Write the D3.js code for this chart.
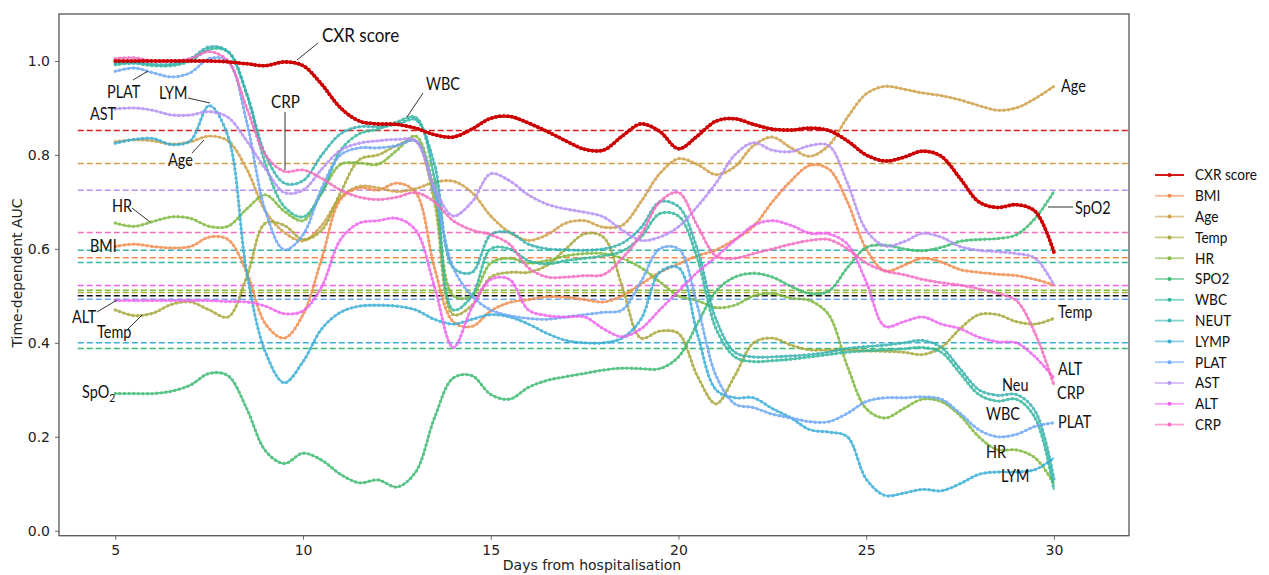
<!DOCTYPE html>
<html>
<head>
<meta charset="utf-8">
<script src="https://cdn.jsdelivr.net/npm/d3@7"></script>
<style>
  html, body { margin: 0; padding: 0; background: #fff; }
  svg { display: block; }
  .tick text { font-family: "DejaVu Sans", sans-serif; font-size: 14px; fill: #222; }
  .axis-title { font-family: "DejaVu Sans", sans-serif; font-size: 14px; fill: #222; }
  .note { font-family: Lato, "Open Sans", sans-serif; font-size: 17px; fill: #111; }
  .legend text { font-family: Lato, "Open Sans", sans-serif; font-size: 15.5px; fill: #111; }
</style>
</head>
<body>
<svg id="chart" width="1269" height="575"></svg>
<script>
// Time-dependent AUC of each predictor by day of hospital stay
const days = [5,5.5,6,6.5,7,7.5,8,8.5,9,9.5,10,10.5,11,11.5,12,12.5,13,13.5,14,14.5,
  15,15.5,16,16.5,17,17.5,18,18.5,19,19.5,20,20.5,21,21.5,22,22.5,23,23.5,24,24.5,
  25,25.5,26,26.5,27,27.5,28,28.5,29,29.5,30];

const seriesNames = ["CXR score","BMI","Age","Temp","HR","SPO2","WBC","NEUT","LYMP","PLAT","AST","ALT","CRP"];
const seriesColors = ["#cc0000","#f28c4f","#cfa048","#a9a83c","#80b93e","#3dba72","#36b89d","#37b2b0","#3aaed6","#6ea8f5","#b690f5","#ef64ef","#f46cbf"];

const cxrAUC = [1.0,1.0,1.0,1.0,1.0,1.0,0.998,0.994,0.99,0.998,
  0.99,0.95,0.90,0.872,0.866,0.865,0.857,0.843,0.838,0.855,
  0.878,0.882,0.868,0.85,0.83,0.812,0.81,0.84,0.866,0.85,
  0.813,0.84,0.872,0.877,0.865,0.855,0.853,0.857,0.852,0.83,
  0.80,0.787,0.795,0.808,0.797,0.75,0.70,0.688,0.694,0.68,
  0.593];
const bmiAUC = [0.605,0.61,0.605,0.602,0.605,0.625,0.62,0.55,0.44,0.41,
  0.46,0.58,0.705,0.73,0.725,0.74,0.72,0.56,0.445,0.435,
  0.468,0.486,0.492,0.498,0.497,0.492,0.487,0.5,0.525,0.55,
  0.568,0.585,0.598,0.62,0.648,0.70,0.745,0.778,0.77,0.70,
  0.60,0.553,0.565,0.58,0.572,0.556,0.55,0.546,0.543,0.535,
  0.523];
const ageAUC = [0.828,0.832,0.83,0.823,0.828,0.84,0.83,0.77,0.68,0.635,
  0.617,0.65,0.71,0.733,0.73,0.722,0.728,0.742,0.744,0.72,
  0.67,0.635,0.618,0.63,0.655,0.66,0.646,0.65,0.70,0.76,
  0.792,0.78,0.758,0.775,0.82,0.838,0.815,0.797,0.82,0.88,
  0.93,0.946,0.94,0.932,0.926,0.917,0.905,0.895,0.9,0.92,
  0.946];
const tempAUC = [0.47,0.458,0.463,0.482,0.487,0.47,0.455,0.54,0.655,0.65,
  0.62,0.64,0.72,0.79,0.80,0.82,0.83,0.70,0.46,0.48,
  0.54,0.55,0.55,0.565,0.60,0.632,0.625,0.52,0.41,0.425,
  0.42,0.33,0.27,0.33,0.40,0.41,0.395,0.385,0.385,0.385,
  0.383,0.382,0.38,0.375,0.39,0.43,0.46,0.46,0.445,0.44,
  0.452];
const hrAUC = [0.655,0.648,0.658,0.668,0.665,0.648,0.648,0.685,0.715,0.68,
  0.66,0.72,0.78,0.783,0.78,0.81,0.84,0.72,0.50,0.50,
  0.57,0.58,0.57,0.575,0.585,0.59,0.59,0.58,0.56,0.53,
  0.50,0.49,0.475,0.48,0.50,0.505,0.495,0.49,0.46,0.35,
  0.26,0.24,0.26,0.28,0.275,0.245,0.20,0.172,0.172,0.155,
  0.10];
const spo2AUC = [0.292,0.292,0.292,0.297,0.31,0.335,0.33,0.26,0.17,0.143,
  0.165,0.15,0.12,0.102,0.108,0.093,0.125,0.24,0.325,0.33,
  0.29,0.28,0.305,0.32,0.328,0.335,0.342,0.346,0.345,0.345,
  0.37,0.44,0.51,0.54,0.548,0.54,0.52,0.505,0.51,0.56,
  0.603,0.608,0.60,0.596,0.603,0.616,0.62,0.622,0.63,0.665,
  0.722];
const wbcAUC = [0.992,0.995,0.99,0.99,1.0,1.025,1.02,0.93,0.78,0.69,
  0.668,0.72,0.81,0.845,0.855,0.87,0.88,0.75,0.47,0.50,
  0.60,0.60,0.575,0.568,0.575,0.58,0.585,0.595,0.625,0.675,
  0.67,0.58,0.43,0.37,0.36,0.362,0.365,0.37,0.375,0.38,
  0.383,0.385,0.387,0.39,0.38,0.335,0.29,0.276,0.28,0.24,
  0.087];
const neutAUC = [0.995,0.997,0.993,0.993,1.005,1.03,1.02,0.93,0.80,0.74,
  0.745,0.80,0.845,0.86,0.86,0.865,0.875,0.78,0.56,0.55,
  0.63,0.635,0.61,0.60,0.598,0.597,0.60,0.612,0.645,0.70,
  0.69,0.60,0.45,0.38,0.37,0.37,0.372,0.375,0.38,0.388,
  0.392,0.395,0.40,0.405,0.39,0.345,0.30,0.288,0.29,0.255,
  0.11];
const lympAUC = [0.825,0.833,0.835,0.822,0.83,0.905,0.84,0.55,0.38,0.315,
  0.36,0.43,0.465,0.478,0.48,0.478,0.47,0.45,0.44,0.45,
  0.46,0.455,0.44,0.42,0.405,0.40,0.40,0.41,0.45,0.55,
  0.56,0.42,0.30,0.283,0.283,0.26,0.24,0.215,0.21,0.20,
  0.11,0.075,0.08,0.088,0.085,0.10,0.12,0.125,0.125,0.13,
  0.155];
const platAUC = [0.978,0.985,0.975,0.966,0.975,1.005,1.0,0.87,0.68,0.598,
  0.63,0.73,0.80,0.815,0.815,0.82,0.83,0.72,0.56,0.50,
  0.47,0.458,0.452,0.45,0.455,0.46,0.465,0.47,0.53,0.60,
  0.60,0.48,0.33,0.27,0.262,0.248,0.24,0.232,0.232,0.25,
  0.275,0.283,0.283,0.285,0.28,0.25,0.215,0.20,0.205,0.222,
  0.23];
const astAUC = [0.898,0.90,0.895,0.885,0.885,0.892,0.88,0.83,0.77,0.72,
  0.725,0.77,0.81,0.825,0.83,0.833,0.83,0.73,0.67,0.70,
  0.76,0.745,0.715,0.695,0.685,0.678,0.668,0.64,0.618,0.625,
  0.647,0.69,0.74,0.80,0.826,0.81,0.807,0.82,0.82,0.74,
  0.64,0.606,0.615,0.633,0.625,0.605,0.597,0.594,0.59,0.58,
  0.523];
const altAUC = [0.49,0.49,0.49,0.49,0.49,0.49,0.488,0.487,0.478,0.462,
  0.468,0.52,0.62,0.655,0.66,0.665,0.64,0.52,0.39,0.475,
  0.535,0.535,0.47,0.458,0.455,0.455,0.43,0.413,0.43,0.47,
  0.51,0.55,0.583,0.618,0.65,0.66,0.65,0.633,0.632,0.61,
  0.53,0.435,0.445,0.455,0.44,0.43,0.412,0.402,0.40,0.37,
  0.325];
const crpAUC = [1.005,1.007,1.0,1.0,1.005,1.02,1.0,0.9,0.8,0.765,
  0.768,0.75,0.725,0.71,0.705,0.71,0.72,0.70,0.66,0.64,
  0.63,0.61,0.56,0.54,0.54,0.543,0.545,0.58,0.63,0.70,
  0.72,0.65,0.585,0.58,0.59,0.60,0.61,0.618,0.62,0.60,
  0.57,0.553,0.545,0.535,0.528,0.523,0.515,0.505,0.49,0.42,
  0.31];

// Overall (whole-stay) AUC of each predictor, drawn as dashed reference lines
const refNames  = ["CXR score","Age","AST","CRP","NEUT","BMI","WBC","ALT","HR","Temp","chance","PLAT","LYMP","SPO2"];
const refValues = [0.852,0.782,0.725,0.635,0.597,0.581,0.571,0.522,0.512,0.507,0.500,0.493,0.400,0.388];
const refColors = ["#d42020","#cfa048","#b690f5","#f46cbf","#37b2b0","#f28c4f","#36b89d","#ef64ef","#80b93e","#a9a83c","#111111","#6ea8f5","#3aaed6","#3dba72"];

const xTicks = [5,10,15,20,25,30];
const yTicks = [0.0,0.2,0.4,0.6,0.8,1.0];

const svg = d3.select("#chart");
const x = d3.scaleLinear().domain([3.5, 32.0]).range([59, 1129]);
const y = d3.scaleLinear().domain([-0.0106, 1.1]).range([535.7, 14]);

// axes
svg.append("g")
  .attr("transform", `translate(0,${y.range()[0]})`)
  .call(d3.axisBottom(x).tickValues(xTicks).tickFormat(d3.format("d")).tickSize(4).tickPadding(5))
  .call(g => g.select(".domain").remove())
  .call(g => g.selectAll(".tick line").attr("stroke", "#666"));
svg.append("g")
  .attr("transform", `translate(${x.range()[0]},0)`)
  .call(d3.axisLeft(y).tickValues(yTicks).tickFormat(d3.format(".1f")).tickSize(4).tickPadding(5))
  .call(g => g.select(".domain").remove())
  .call(g => g.selectAll(".tick line").attr("stroke", "#666"));

svg.append("text").attr("class", "axis-title")
  .attr("x", 592).attr("y", 570).attr("text-anchor", "middle")
  .text("Days from hospitalisation");
svg.append("text").attr("class", "axis-title")
  .attr("transform", "translate(22,273) rotate(-90)").attr("text-anchor", "middle")
  .text("Time-dependent AUC");

// reference lines
svg.append("g").selectAll("line").data(refValues).join("line")
  .attr("x1", x(4)).attr("x2", x(32))
  .attr("y1", d => y(d)).attr("y2", d => y(d))
  .attr("stroke", (d, i) => refColors[i])
  .attr("stroke-width", 1.5)
  .attr("stroke-dasharray", "6,3");

// series
const seriesValues = [cxrAUC,bmiAUC,ageAUC,tempAUC,hrAUC,spo2AUC,wbcAUC,neutAUC,lympAUC,platAUC,astAUC,altAUC,crpAUC];
const line = d3.line()
  .x((d, i) => x(days[i]))
  .y(d => y(d))
  .curve(d3.curveCatmullRom.alpha(0.5));

const order = d3.range(1, seriesNames.length).concat([0]);
const gSeries = svg.append("g");
order.forEach(k => {
  const isCXR = k === 0;
  const g = gSeries.append("g").attr("opacity", isCXR ? 1 : 0.85);
  const dPath = line(seriesValues[k]);
  g.append("path").attr("d", dPath)
    .attr("fill", "none").attr("stroke", seriesColors[k])
    .attr("stroke-width", isCXR ? 2.6 : 1.8);
  g.append("path").attr("d", dPath)
    .attr("fill", "none").attr("stroke", seriesColors[k])
    .attr("stroke-width", isCXR ? 4 : 3.4)
    .attr("stroke-linecap", "round")
    .attr("stroke-dasharray", isCXR ? "0,4" : "0,4.6");
});

// frame
svg.append("rect")
  .attr("x", x.range()[0]).attr("y", y.range()[1])
  .attr("width", x.range()[1] - x.range()[0]).attr("height", y.range()[0] - y.range()[1])
  .attr("fill", "none").attr("stroke", "#555").attr("stroke-width", 1.3);

// annotations (narrowed horizontally to a condensed look)
const notes = [
  {t:"CXR score", x:322, y:42, s:20},
  {t:"PLAT", x:107, y:98}, {t:"LYM", x:159, y:99}, {t:"AST", x:90, y:120},
  {t:"Age", x:168, y:166}, {t:"CRP", x:271, y:108, s:18}, {t:"HR", x:112, y:212},
  {t:"BMI", x:90, y:252}, {t:"ALT", x:72, y:323}, {t:"Temp", x:97, y:338},
  {t:"WBC", x:426, y:90}, {t:"Age", x:1061, y:92}, {t:"SpO2", x:1075, y:214},
  {t:"Temp", x:1058, y:318}, {t:"ALT", x:1058, y:375}, {t:"CRP", x:1057, y:399},
  {t:"Neu", x:1002, y:391}, {t:"WBC", x:986, y:420}, {t:"PLAT", x:1058, y:428},
  {t:"HR", x:986, y:458}, {t:"LYM", x:1001, y:482}
];
svg.append("g").selectAll("text").data(notes).join("text")
  .attr("class", "note")
  .attr("transform", d => `translate(${d.x},${d.y}) scale(0.85,1)`)
  .style("font-size", d => (d.s || 17) + "px")
  .text(d => d.t);
const spo = svg.append("text").attr("class", "note")
  .attr("transform", "translate(82,398) scale(0.85,1)");
spo.append("tspan").text("SpO");
spo.append("tspan").attr("dy", 4).style("font-size", "12px").text("2");

const leaders = [
  [297,60,318,43],[133,80,148,71],[188,98,210,103],[192,153,204,140],
  [285,112,285,170],[132,208,150,222],[97,312,117,300],[127,330,142,315],
  [423,93,407,117],[1048,207,1073,207]
];
svg.append("g").selectAll("line").data(leaders).join("line")
  .attr("x1", d => d[0]).attr("y1", d => d[1]).attr("x2", d => d[2]).attr("y2", d => d[3])
  .attr("stroke", "#333").attr("stroke-width", 1);

// legend
const legend = svg.append("g").attr("class", "legend");
seriesNames.forEach((name, i) => {
  const ly = 175 + i * 20.8;
  legend.append("line").attr("x1", 1155).attr("x2", 1184).attr("y1", ly).attr("y2", ly)
    .attr("stroke", seriesColors[i]).attr("stroke-width", 1.8).attr("opacity", i === 0 ? 1 : 0.6);
  legend.append("circle").attr("cx", 1169.5).attr("cy", ly).attr("r", 2)
    .attr("fill", seriesColors[i]);
  legend.append("text")
    .attr("transform", `translate(1195,${ly}) scale(0.88,1)`)
    .attr("dy", "0.35em").text(name);
});
</script>
</body>
</html>
